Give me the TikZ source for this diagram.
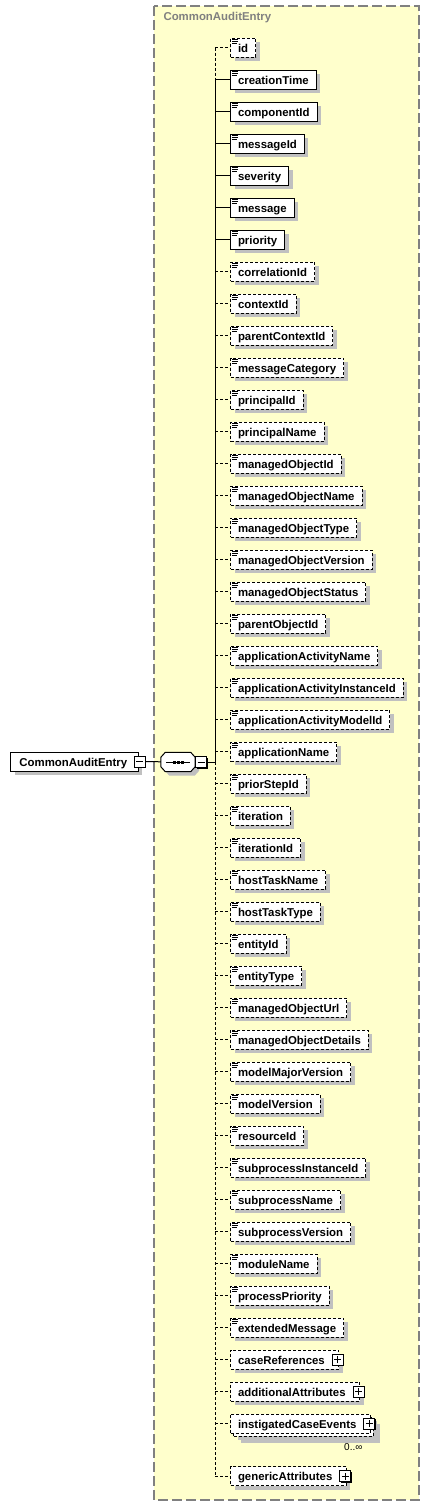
\documentclass[tikz,border=0pt]{standalone}
\usepackage{fontspec}
\setmainfont{Liberation Sans}
\usetikzlibrary{shadows}

\definecolor{paneyellow}{RGB}{255,255,204}
\definecolor{panegray}{RGB}{128,128,128}
\definecolor{shadegray}{RGB}{192,192,192}

\begin{document}
\begin{tikzpicture}[
    x=1pt, y=-1pt,
    every node/.style={font=\fontsize{11.4}{13}\selectfont\bfseries},
    box/.style={rectangle, draw, fill=white, line width=1pt, anchor=west,
                minimum height=19pt, inner xsep=7.5pt, inner ysep=0pt,
                text height=9pt, text depth=0pt},
    shade/.style={general shadow={fill=shadegray, shadow xshift=4pt, shadow yshift=-4pt}},
    elem/.style={box, shade},
    req/.style={solid},
    opt/.style={dash pattern=on 3pt off 2pt},
    link/.style={line width=1pt},
    toggle/.style={rectangle, draw, fill=white, line width=1pt, minimum size=11pt, inner sep=0pt,
                   general shadow={fill=black, shadow xshift=1pt, shadow yshift=-1pt}},
    pane/.style={draw=panegray, fill=paneyellow, line width=1.2pt, dash pattern=on 10pt off 4pt},
    occurs/.style={font=\fontsize{10}{12}\selectfont}
]
\useasboundingbox (0,0) rectangle (430,1507);

% container of the complex type
\draw[pane] (154,6) rectangle (419,1500);
\node[anchor=west, text=panegray] (panetitle) at (160,17.5) {CommonAuditEntry};

% root element and sequence
\node[elem, inner xsep=9pt] (root) at (10,761.5) {CommonAuditEntry\kern2pt};
\node[toggle] (roottog) at ([xshift=1pt]root.east) {};
\draw[line width=1pt] ([xshift=2.5pt]roottog.west) -- ([xshift=-2.5pt]roottog.east);

\node[minimum width=34pt, minimum height=19pt, inner sep=0pt] (seq) at (178,762) {};
\draw[fill=white, line width=1pt, shade]
    ([xshift=4.5pt]seq.north west) -- ([xshift=-4.5pt]seq.north east)
    -- ([yshift=-5pt]seq.north east) -- ([yshift=5pt]seq.south east)
    -- ([xshift=-4.5pt]seq.south east) -- ([xshift=4.5pt]seq.south west)
    -- ([yshift=5pt]seq.south west) -- ([yshift=-5pt]seq.north west) -- cycle;
\node[toggle, anchor=west] (seqtog) at (seq.east) {};
\draw[line width=1pt] ([xshift=2.5pt]seqtog.west) -- ([xshift=-2.5pt]seqtog.east);
\draw[line width=1pt] ([xshift=-12pt]seq.center) -- ([xshift=12pt]seq.center);
\foreach \d in {-4,0,4}
    \fill ([xshift=\d pt-1.5pt, yshift=1.5pt]seq.center) rectangle ++(3,3);

\coordinate (spine) at (215,762);
\draw[link] (roottog) -- (seq);
\draw[link] (seqtog) -- (spine);

% simple children
\foreach \nm/\kd [count=\i from 0] in {id/opt, creationTime/req, componentId/req, messageId/req,
        severity/req, message/req, priority/req, correlationId/opt, contextId/opt,
        parentContextId/opt, messageCategory/opt, principalId/opt, principalName/opt,
        managedObjectId/opt, managedObjectName/opt, managedObjectType/opt,
        managedObjectVersion/opt, managedObjectStatus/opt, parentObjectId/opt,
        applicationActivityName/opt, applicationActivityInstanceId/opt,
        applicationActivityModelId/opt, applicationName/opt, priorStepId/opt,
        iteration/opt, iterationId/opt, hostTaskName/opt, hostTaskType/opt, entityId/opt,
        entityType/opt, managedObjectUrl/opt, managedObjectDetails/opt,
        modelMajorVersion/opt, modelVersion/opt, resourceId/opt, subprocessInstanceId/opt,
        subprocessName/opt, subprocessVersion/opt, moduleName/opt, processPriority/opt,
        extendedMessage/opt} {
    \coordinate (b\i) at (215,{47.5+32*\i});
    \node[elem, \kd] (e\i) at (230,{47.5+32*\i}) {\nm};
    \foreach \k/\w in {2/5.5, 4/5.5, 6/4.5}
        \draw[line width=0.8pt] ([xshift=2pt, yshift=-\k pt]e\i.north west) -- ++(\w,0);
    \draw[link, \kd] (b\i) -- (e\i);
}

% complex children
\node[elem, opt] (e41) at (230,1359.5) {caseReferences\kern6.5pt};
\node[elem, opt] (e42) at (230,1391.5) {additionalAttributes\kern6.5pt};
\node[elem, opt, general shadow={fill=shadegray, shadow xshift=7pt, shadow yshift=-7pt}]
    (e43back) at (233,1426.5) {\phantom{instigatedCaseEvents}\kern6.5pt};
\node[box, opt] (e43) at (230,1423.5) {instigatedCaseEvents\kern6.5pt};
\node[elem, opt] (e44) at (230,1476) {genericAttributes\kern6.5pt};
\node[occurs, anchor=east] (e43occurs) at (366,1447) {0..∞};

\foreach \i/\y in {41/1359.5, 42/1391.5, 43/1423.5, 44/1476} {
    \coordinate (b\i) at (215,\y);
    \node[toggle] (p\i) at ([xshift=-1.5pt]e\i.east) {};
    \draw[line width=1pt] ([xshift=2.5pt]p\i.west) -- ([xshift=-2.5pt]p\i.east);
    \draw[line width=1pt] ([yshift=2.5pt]p\i.south) -- ([yshift=-2.5pt]p\i.north);
    \draw[link, opt] (b\i) -- (e\i);
}

% spine of the sequence
\draw[link, opt] (b0) -- (b1);
\draw[link] (b1) -- (spine);
\draw[link, opt] (spine) -- (b44);
\end{tikzpicture}
\end{document}
